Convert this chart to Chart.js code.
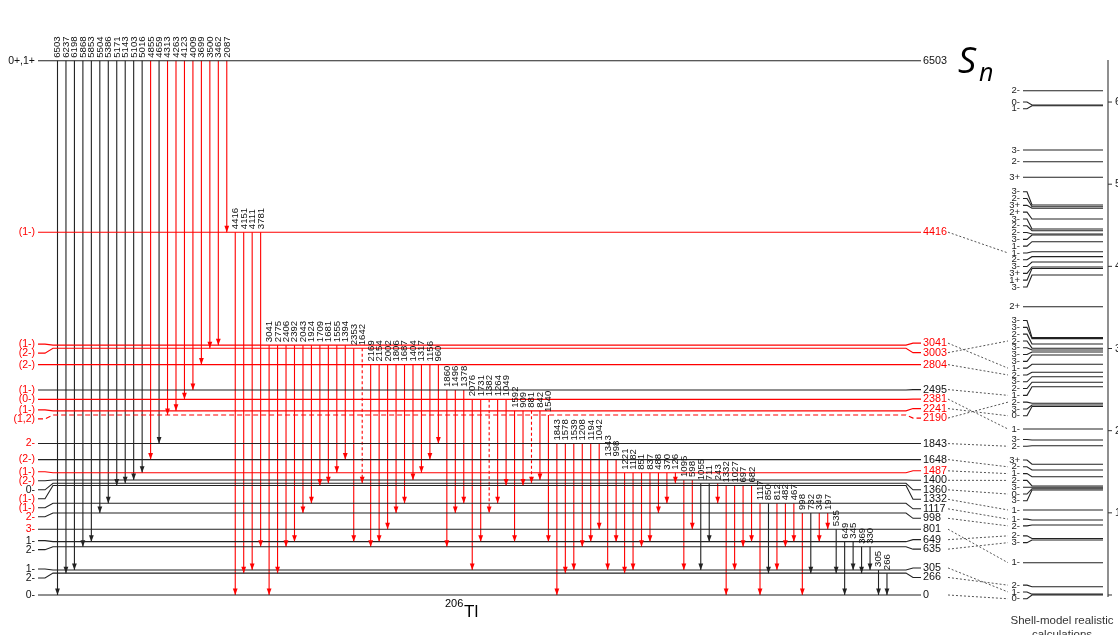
<!DOCTYPE html>
<html>
<head>
<meta charset="utf-8">
<title>206Tl level scheme</title>
<script src="https://cdn.jsdelivr.net/npm/chart.js@4.4.1/dist/chart.umd.min.js"></script>
<style>
  html, body { margin: 0; padding: 0; background: #fff; }
  #box { position: relative; width: 1118px; height: 635px; }
</style>
</head>
<body>
<div id="box"><canvas id="scheme" width="1118" height="635"></canvas></div>
<script>
// ---------- 206Tl levels (keV) ----------
const levelEnergies  = [6503, 4416, 3041, 3003, 2804, 2495, 2381, 2241, 2190, 1843, 1648, 1487, 1400, 1360, 1332, 1117, 998, 801, 649, 635, 305, 266, 0];
const levelSpins     = ['0+,1+', '(1-)', '(1-)', '(2-)', '(2-)', '(1-)', '(0-)', '(1-)', '(1,2)', '2-', '(2-)', '(1-)', '(2-)', '0-', '(1-)', '(1-)', '2-', '3-', '1-', '2-', '1-', '2-', '0-'];
const levelIsNew     = [0, 1, 1, 1, 1, 0, 1, 1, 1, 0, 0, 1, 0, 0, 0, 0, 0, 0, 0, 0, 0, 0, 0];
const spinIsNew      = [0, 1, 1, 1, 1, 1, 1, 1, 1, 1, 1, 1, 1, 0, 1, 1, 1, 1, 0, 0, 0, 0, 0];
const levelTentative = [0, 0, 0, 0, 0, 0, 0, 0, 1, 0, 0, 0, 0, 0, 0, 0, 0, 0, 0, 0, 0, 0, 0];
// index of the shell-model state each level is paired with
const levelPartner   = [null, 15, 29, 25, 30, 33, 37, 36, 34, 39, 41, 42, 43, 45, 47, 48, 49, 52, 50, 51, 54, 53, 55];

// ---------- gamma transitions (keV) ----------
const gammaEnergies = [
  6503, 6237, 6198, 5868, 5853, 5504, 5386, 5171, 5143, 5103, 5016, 4855, 4659, 4313, 4263, 4123, 4009, 3699, 3500, 3462, 2087,
  4416, 4151, 4111, 3781,
  3041, 2775, 2406, 2392, 2043, 1924, 1709, 1681, 1555, 1394,
  2353, 1642,
  2169, 2154, 2002, 1806, 1687, 1404, 1317, 1156, 960,
  1860, 1496, 1378,
  2076, 1731, 1382, 1264, 1049,
  1592, 909, 881, 842,
  1540,
  1843, 1578, 1539, 1208, 1194, 1042,
  1343, 998,
  1221, 1182, 851, 837, 488, 370, 126,
  1095, 598,
  1055, 711, 243,
  1332, 1027, 697, 682,
  1117, 850, 812, 482, 467,
  998, 732, 349, 197,
  535,
  649, 345,
  369, 330,
  305,
  266
];
const gammaFrom = [
  6503, 6503, 6503, 6503, 6503, 6503, 6503, 6503, 6503, 6503, 6503, 6503, 6503, 6503, 6503, 6503, 6503, 6503, 6503, 6503, 6503,
  4416, 4416, 4416, 4416,
  3041, 3041, 3041, 3041, 3041, 3041, 3041, 3041, 3041, 3041,
  3003, 3003,
  2804, 2804, 2804, 2804, 2804, 2804, 2804, 2804, 2804,
  2495, 2495, 2495,
  2381, 2381, 2381, 2381, 2381,
  2241, 2241, 2241, 2241,
  2190,
  1843, 1843, 1843, 1843, 1843, 1843,
  1648, 1648,
  1487, 1487, 1487, 1487, 1487, 1487, 1487,
  1400, 1400,
  1360, 1360, 1360,
  1332, 1332, 1332, 1332,
  1117, 1117, 1117, 1117, 1117,
  998, 998, 998, 998,
  801,
  649, 649,
  635, 635,
  305,
  266
];
const gammaTo = [
  0, 266, 305, 635, 649, 998, 1117, 1332, 1360, 1400, 1487, 1648, 1843, 2190, 2241, 2381, 2495, 2804, 3003, 3041, 4416,
  0, 266, 305, 635,
  0, 266, 635, 649, 998, 1117, 1332, 1360, 1487, 1648,
  649, 1360,
  635, 649, 801, 998, 1117, 1400, 1487, 1648, 1843,
  635, 998, 1117,
  305, 649, 998, 1117, 1332,
  649, 1332, 1360, 1400,
  649,
  0, 266, 305, 635, 649, 801,
  305, 649,
  266, 305, 635, 649, 998, 1117, 1360,
  305, 801,
  305, 649, 1117,
  0, 305, 635, 649,
  0, 266, 305, 635, 649,
  0, 266, 649, 801,
  266,
  0, 305,
  266, 305,
  0,
  0
];
const gammaIsNew = [
  0, 0, 0, 0, 0, 0, 0, 0, 0, 0, 0, 1, 0, 1, 1, 1, 1, 1, 1, 1, 1,
  1, 1, 1, 1,
  1, 1, 1, 1, 1, 1, 1, 1, 1, 1,
  1, 1,
  1, 1, 1, 1, 1, 1, 1, 1, 1,
  1, 1, 1,
  1, 1, 1, 1, 1,
  1, 1, 1, 1,
  1,
  1, 1, 1, 1, 1, 1,
  1, 1,
  1, 1, 1, 1, 1, 1, 1,
  1, 1,
  0, 0, 1,
  1, 1, 1, 1,
  1, 0, 1, 1, 1,
  1, 0, 1, 1,
  0,
  0, 0,
  0, 0,
  0,
  0
];
const gammaTentative = [1642, 1382, 881];

// ---------- shell-model states (keV) ----------
const shellEnergies = [6138, 5964, 5955, 5416, 5274, 5084, 4747, 4726, 4707, 4577, 4455, 4434, 4394, 4382, 4300, 4178, 4118, 4053, 3992, 3974, 3895,
  3509, 3132, 3120, 3055, 3004, 2982, 2958, 2921, 2808, 2711, 2657, 2589, 2535, 2333, 2313, 2294, 2020, 1887, 1817,
  1591, 1521, 1440, 1327, 1311, 1294, 1278, 1035, 913, 852, 688, 669, 393, 101, 10, 0];
const shellSpins = ['2-', '0-', '1-', '3-', '2-', '3+', '3-', '2-', '3+', '2+', '3-', '2-', '2-', '3-', '1-', '1-', '2-', '3-', '3+', '1+', '3-',
  '2+', '3-', '3-', '2-', '2-', '3-', '3-', '3-', '1-', '2-', '3-', '2-', '1-', '2-', '3-', '0-', '1-', '3-', '2-',
  '3+', '2-', '1-', '2-', '3-', '0-', '3-', '1-', '1-', '2-', '2-', '3-', '1-', '2-', '1-', '0-'];
const shellTicks = [0, 1, 2, 3, 4, 5, 6];   // MeV

// ---------- drawing layout ----------
const Y_MIN = -487, Y_MAX = 7242;             // vertical axis range, keV
const H = 635;
const KEV_PER_PX = (Y_MAX - Y_MIN) / H;
const BLACK = '#222', RED = '#ff0000';
const L = {
  x0: 38, kl1: 45, kl2: 53, kr1: 906, kr2: 913, x1: 921,
  trX0: 57.5, trDX: 8.464,
  spinX: 35, energyX: 923, dotX0: 948, dotX1: 1008,
  smX0: 1023, smK1: 1027, smK2: 1032, smX1: 1103, smLabelX: 1020, axisX: 1108
};
const levelNudgePx = { 635: 4 };              // crowded level drawn slightly lower

function drawE(E) { return E - (levelNudgePx[E] || 0) * KEV_PER_PX; }
function trX(i) { return L.trX0 + i * L.trDX; }

// place labels top-to-bottom with a minimum spacing (px), blocks may rise by at most maxUp px
function spreadLabels(values, gapPx, maxUpPx) {
  const px = values.map(v => (Y_MAX - v) / KEV_PER_PX);
  const blocks = [];
  px.forEach(p => {
    blocks.push({ want: [p], start: p });
    while (blocks.length > 1) {
      const b = blocks[blocks.length - 1], a = blocks[blocks.length - 2];
      if (b.start >= a.start + a.want.length * gapPx - 1e-6) break;
      const want = a.want.concat(b.want);
      let s = want.reduce((acc, w, k) => acc + w - k * gapPx, 0) / want.length;
      s = Math.max(s, want[0] - maxUpPx);
      blocks.splice(-2, 2, { want, start: s });
    }
  });
  const out = [];
  blocks.forEach(b => b.want.forEach((w, k) => out.push(Y_MAX - (b.start + k * gapPx) * KEV_PER_PX)));
  return out;
}

const drawnLevels = levelEnergies.map(drawE);
const leftPos = spreadLabels(drawnLevels, 9, 1);
const rightPos = spreadLabels(drawnLevels, 9.5, 2);
const shellPos = spreadLabels(shellEnergies, 6.8, 100);

// ---------- datasets ----------
const datasets = [];
const base = { pointRadius: 0, pointHoverRadius: 0, tension: 0, fill: false };

levelEnergies.forEach((E, i) => {
  const d = drawnLevels[i], l = leftPos[i], r = rightPos[i];
  datasets.push(Object.assign({}, base, {
    data: [{ x: L.x0, y: l }, { x: L.kl1, y: l }, { x: L.kl2, y: d }, { x: L.kr1, y: d }, { x: L.kr2, y: r }, { x: L.x1, y: r }],
    borderColor: levelIsNew[i] ? RED : BLACK,
    borderWidth: 1.1,
    borderDash: levelTentative[i] ? [5, 3] : []
  }));
});

gammaEnergies.forEach((g, i) => {
  const col = gammaIsNew[i] ? RED : BLACK;
  const dashed = gammaTentative.includes(g) && gammaIsNew[i];
  datasets.push(Object.assign({}, base, {
    data: [{ x: trX(i), y: drawE(gammaFrom[i]) }, { x: trX(i), y: drawE(gammaTo[i]) }],
    borderColor: col, borderWidth: 1.1,
    borderDash: dashed ? [3, 2.5] : [],
    arrowHead: col
  }));
});

levelEnergies.forEach((E, i) => {
  const s = levelPartner[i];
  if (s === null) return;
  datasets.push(Object.assign({}, base, {
    data: [{ x: L.dotX0, y: rightPos[i] }, { x: L.dotX1, y: shellPos[s] }],
    borderColor: '#555', borderWidth: 1, borderDash: [2, 2]
  }));
});

shellEnergies.forEach((E, i) => {
  const l = shellPos[i];
  datasets.push(Object.assign({}, base, {
    data: [{ x: L.smX0, y: l }, { x: L.smK1, y: l }, { x: L.smK2, y: E }, { x: L.smX1, y: E }],
    borderColor: BLACK, borderWidth: 1.1
  }));
});

datasets.push(Object.assign({}, base, {
  data: [{ x: L.axisX, y: -25 }, { x: L.axisX, y: 6512 }],
  borderColor: '#333', borderWidth: 1.1
}));
shellTicks.forEach(t => {
  datasets.push(Object.assign({}, base, {
    data: [{ x: L.axisX, y: t * 1000 }, { x: L.axisX + 4, y: t * 1000 }],
    borderColor: '#333', borderWidth: 1
  }));
});

// ---------- plugins ----------
const arrowPlugin = {
  id: 'arrowHeads',
  afterDatasetsDraw(chart) {
    const ctx = chart.ctx;
    chart.data.datasets.forEach((ds, i) => {
      if (!ds.arrowHead) return;
      const pts = chart.getDatasetMeta(i).data;
      const tip = pts[pts.length - 1];
      ctx.save();
      ctx.fillStyle = ds.arrowHead;
      ctx.beginPath();
      ctx.moveTo(tip.x, tip.y);
      ctx.lineTo(tip.x - 2.4, tip.y - 6.5);
      ctx.lineTo(tip.x + 2.4, tip.y - 6.5);
      ctx.closePath();
      ctx.fill();
      ctx.restore();
    });
  }
};

const FONT = '"Liberation Sans", Arial, Helvetica, sans-serif';
const textPlugin = {
  id: 'schemeText',
  afterDraw(chart) {
    const { ctx, scales: { x, y } } = chart;
    ctx.save();
    ctx.textBaseline = 'middle';

    // gamma energies, vertical, above the emitting level
    ctx.font = '9.6px ' + FONT;
    ctx.fillStyle = '#111';
    ctx.textAlign = 'left';
    gammaEnergies.forEach((g, i) => {
      const px = x.getPixelForValue(trX(i));
      const py = y.getPixelForValue(drawE(gammaFrom[i]));
      ctx.save();
      ctx.translate(px + 0.3, py - 3);
      ctx.rotate(-Math.PI / 2);
      ctx.fillText(String(g), 0, 0);
      ctx.restore();
    });

    // spin-parity labels on the left
    ctx.font = '10.5px ' + FONT;
    ctx.textAlign = 'right';
    levelSpins.forEach((s, i) => {
      ctx.fillStyle = spinIsNew[i] ? RED : '#111';
      ctx.fillText(s, x.getPixelForValue(L.spinX), y.getPixelForValue(leftPos[i]));
    });

    // level energies on the right
    ctx.font = '10.8px ' + FONT;
    ctx.textAlign = 'left';
    levelEnergies.forEach((E, i) => {
      ctx.fillStyle = levelIsNew[i] ? RED : '#111';
      ctx.fillText(String(E), x.getPixelForValue(L.energyX), y.getPixelForValue(rightPos[i]));
    });

    // shell-model spins
    ctx.font = '9.5px ' + FONT;
    ctx.textAlign = 'right';
    ctx.fillStyle = '#222';
    shellSpins.forEach((s, i) => {
      ctx.fillText(s, x.getPixelForValue(L.smLabelX), y.getPixelForValue(shellPos[i]));
    });

    // shell-model axis labels (MeV)
    ctx.font = '11px ' + FONT;
    ctx.textAlign = 'left';
    ctx.fillStyle = '#222';
    shellTicks.forEach(t => {
      if (t === 0) return;
      ctx.fillText(String(t), x.getPixelForValue(L.axisX + 7), y.getPixelForValue(t * 1000));
    });

    // S_n
    ctx.fillStyle = '#000';
    ctx.textBaseline = 'alphabetic';
    ctx.font = 'italic 36px "Open Sans", ' + FONT;
    ctx.fillText('S', 958, 73);
    ctx.font = 'italic 25px "Open Sans", ' + FONT;
    ctx.fillText('n', 979, 81);

    // nucleus name
    ctx.font = '11px ' + FONT;
    ctx.fillText('206', 445, 607);
    ctx.font = '17px ' + FONT;
    ctx.fillText('Tl', 464, 617);

    // panel caption
    ctx.font = '11.5px ' + FONT;
    ctx.fillStyle = '#333';
    ctx.textAlign = 'center';
    ctx.fillText('Shell-model realistic', 1062, 624);
    ctx.fillText('calculations', 1062, 638);
    ctx.restore();
  }
};

new Chart(document.getElementById('scheme'), {
  type: 'line',
  data: { datasets },
  options: {
    responsive: false,
    animation: false,
    events: [],
    layout: { padding: 0 },
    plugins: { legend: { display: false }, tooltip: { enabled: false } },
    scales: {
      x: { type: 'linear', min: 0, max: 1118, display: false },
      y: { type: 'linear', min: Y_MIN, max: Y_MAX, display: false }
    }
  },
  plugins: [arrowPlugin, textPlugin]
});
</script>
</body>
</html>
